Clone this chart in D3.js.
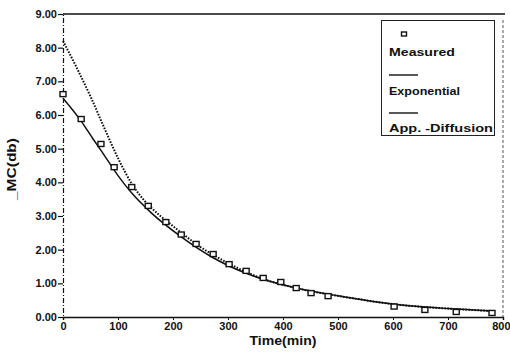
<!DOCTYPE html>
<html>
<head>
<meta charset="utf-8">
<script src="https://cdn.jsdelivr.net/npm/d3@7"></script>
<style>
  html, body { margin: 0; padding: 0; background: #fff; }
  svg { display: block; }
  text { font-family: "Liberation Sans", Arial, sans-serif; font-weight: bold; fill: #111; }
</style>
</head>
<body>
<svg id="chart" width="510" height="353"></svg>
<script>
// Measured moisture content (dry basis) over drying time
const measuredTime = [0, 33, 69, 93, 125, 155, 187, 215, 242, 273, 302, 333, 364, 396, 424, 451, 482, 602, 658, 715, 780];
const measuredMC   = [6.62, 5.88, 5.14, 4.45, 3.86, 3.30, 2.82, 2.45, 2.17, 1.87, 1.57, 1.37, 1.16, 1.04, 0.86, 0.71, 0.62, 0.31, 0.21, 0.15, 0.12];

// Exponential model curve
const expTime = [0, 33, 55, 69, 100, 125, 160, 215, 273, 300, 364, 424, 500, 602, 700, 780];
const expMC   = [6.50, 5.82, 5.28, 4.95, 4.20, 3.68, 3.10, 2.38, 1.76, 1.53, 1.12, 0.86, 0.63, 0.38, 0.25, 0.18];

// Approximate diffusion model curve
const difTime = [0, 25, 50, 75, 100, 125, 150, 175, 200, 250, 300, 364, 424, 500, 602, 700, 780];
const difMC   = [8.20, 7.40, 6.55, 5.62, 4.72, 3.96, 3.42, 3.03, 2.70, 2.08, 1.60, 1.13, 0.86, 0.63, 0.38, 0.25, 0.18];

const xTicks = [0, 100, 200, 300, 400, 500, 600, 700, 800];
const yTicks = [0, 1, 2, 3, 4, 5, 6, 7, 8, 9];
const legendLabels = ["Measured", "Exponential", "App. -Diffusion"];

const svg = d3.select("#chart");
const x = d3.scaleLinear().domain([0, 800]).range([63, 503]);
const y = d3.scaleLinear().domain([0, 9]).range([317, 14]);

// frame: solid top, dashed right
svg.append("line").attr("x1", x(0)).attr("x2", x(800) + 2).attr("y1", y(9)).attr("y2", y(9))
  .attr("stroke", "#111").attr("stroke-width", 1.6);
svg.append("line").attr("x1", x(800)).attr("x2", x(800)).attr("y1", y(9) + 6).attr("y2", y(0))
  .attr("stroke", "#555").attr("stroke-width", 1).attr("stroke-dasharray", "3,2");

// x axis
const xAxis = d3.axisBottom(x).tickValues(xTicks).tickSize(3).tickPadding(4).tickFormat(d3.format("d"));
const gx = svg.append("g").attr("transform", `translate(0,${y(0)})`).call(xAxis);
gx.select(".domain").attr("stroke", "#111").attr("stroke-width", 1.4);
gx.selectAll(".tick line").attr("stroke", "#111");
gx.selectAll(".tick text").style("font-size", "11px").attr("dy", "0.55em");
gx.selectAll(".tick text").filter(d => d === 800).attr("text-anchor", "end").attr("x", 7);

// y axis
const yAxis = d3.axisLeft(y).tickValues(yTicks).tickSize(5).tickPadding(1).tickFormat(d3.format(".2f"));
const gy = svg.append("g").attr("transform", `translate(${x(0)},0)`).call(yAxis);
gy.select(".domain").attr("stroke", "#111").attr("stroke-width", 1.2).attr("stroke-dasharray", "5,2,1,2");
gy.selectAll(".tick line").attr("stroke", "#111").attr("stroke-width", 1.2);
gy.selectAll(".tick text").style("font-size", "11px");

// axis titles
svg.append("text").attr("x", 283).attr("y", 345).attr("text-anchor", "middle")
  .style("font-size", "13px").attr("textLength", 67).attr("lengthAdjust", "spacingAndGlyphs")
  .text("Time(min)");
svg.append("text").attr("transform", "translate(16,169) rotate(-90)").attr("text-anchor", "middle")
  .style("font-size", "13px").attr("textLength", 62).attr("lengthAdjust", "spacingAndGlyphs")
  .text("_MC(db)");

// model curves
const line = d3.line().x(d => x(d[0])).y(d => y(d[1])).curve(d3.curveMonotoneX);
svg.append("path").datum(difTime.map((t, i) => [t, difMC[i]]))
  .attr("d", line).attr("fill", "none").attr("stroke", "#111")
  .attr("stroke-width", 2).attr("stroke-dasharray", "1.6,1.4");
svg.append("path").datum(expTime.map((t, i) => [t, expMC[i]]))
  .attr("d", line).attr("fill", "none").attr("stroke", "#111").attr("stroke-width", 1.5);

// measured points
svg.append("g").selectAll("rect").data(measuredTime.map((t, i) => [t, measuredMC[i]])).join("rect")
  .attr("x", d => x(d[0]) - 3).attr("y", d => y(d[1]) - 2.5)
  .attr("width", 6).attr("height", 5)
  .attr("fill", "#fff").attr("stroke", "#111").attr("stroke-width", 1.4);

// legend
const lg = svg.append("g");
lg.append("rect").attr("x", 381.5).attr("y", 20.5).attr("width", 113).attr("height", 115)
  .attr("fill", "#fff").attr("stroke", "#222").attr("stroke-width", 1);
lg.append("rect").attr("x", 401.5).attr("y", 32).attr("width", 5).attr("height", 4)
  .attr("fill", "#fff").attr("stroke", "#111").attr("stroke-width", 1.4);
const legY = [56, 95, 132];
const legW = [66, 71, 104];
legendLabels.forEach((lab, i) => {
  lg.append("text").attr("x", 389).attr("y", legY[i]).style("font-size", "11px")
    .attr("textLength", legW[i]).attr("lengthAdjust", "spacingAndGlyphs").text(lab);
});
[75, 113].forEach(ly => {
  lg.append("line").attr("x1", 389).attr("x2", 418).attr("y1", ly).attr("y2", ly)
    .attr("stroke", "#111").attr("stroke-width", 1.4);
});
</script>
</body>
</html>
